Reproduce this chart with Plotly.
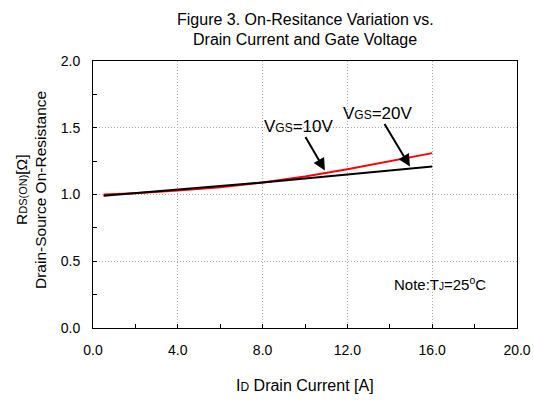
import plotly.graph_objects as go

# Data
id_current = [0.5, 2.0, 4.0, 6.0, 8.0, 10.0, 12.0, 14.0, 16.0]
rds_vgs10 = [0.99, 1.01, 1.035, 1.06, 1.09, 1.12, 1.15, 1.18, 1.21]
rds_vgs20 = [1.00, 1.01, 1.03, 1.055, 1.09, 1.135, 1.19, 1.25, 1.31]

x_ticks = [0, 4, 8, 12, 16, 20]
x_tick_labels = ["0.0", "4.0", "8.0", "12.0", "16.0", "20.0"]
y_ticks = [0, 0.5, 1.0, 1.5, 2.0]
y_tick_labels = ["0.0", "0.5", "1.0", "1.5", "2.0"]

FONT = "Liberation Sans, Arial, sans-serif"
L, R, T, B = 93, 17, 61, 73
PW, PH = 534 - L - R, 401 - T - B

fig = go.Figure()
fig.add_trace(go.Scatter(x=id_current, y=rds_vgs20, mode="lines",
                         line=dict(color="#ff0000", width=2), name="VGS=20V"))
fig.add_trace(go.Scatter(x=id_current, y=rds_vgs10, mode="lines",
                         line=dict(color="#000000", width=2), name="VGS=10V"))


def sm(t, s=11):
    return '<span style="font-size:%dpx">%s</span>' % (s, t)


axis_common = dict(
    showgrid=True, gridcolor="#a8a8a8", griddash="1px,2px", gridwidth=1,
    showline=True, linecolor="black", linewidth=1, mirror=True,
    ticks="inside", ticklen=4, tickcolor="black",
    zeroline=False, automargin=False,
    tickfont=dict(size=14, family=FONT, color="black"),
    ticklabelstandoff=9,
)

fig.update_layout(
    template="none",
    width=534, height=401,
    margin=dict(l=L, r=R, t=T, b=B, autoexpand=False),
    paper_bgcolor="white", plot_bgcolor="white",
    showlegend=False,
    font=dict(family=FONT, color="black", size=14),
    xaxis=dict(range=[0, 20], tickvals=x_ticks, ticktext=x_tick_labels,
               minor=dict(dtick=2, ticks="inside", ticklen=4, tickcolor="black", showgrid=False),
               **axis_common),
    yaxis=dict(range=[0, 2], tickvals=y_ticks, ticktext=y_tick_labels,
               minor=dict(dtick=0.25, ticks="inside", ticklen=4, tickcolor="black", showgrid=False),
               **axis_common),
)


def px_x(px):
    return (px - L) / PW


def px_y(py):
    return (401 - B - py) / PH


# Title (two lines)
fig.add_annotation(x=px_x(305), y=px_y(19), xref="paper", yref="paper", showarrow=False,
                   text="Figure 3. On-Resitance Variation vs.", font=dict(size=16),
                   xanchor="center", yanchor="middle")
fig.add_annotation(x=px_x(305), y=px_y(39), xref="paper", yref="paper", showarrow=False,
                   text="Drain Current and Gate Voltage", font=dict(size=16),
                   xanchor="center", yanchor="middle")

# Axis titles
fig.add_annotation(x=px_x(305), y=px_y(385), xref="paper", yref="paper", showarrow=False,
                   text="I" + sm("D", 12) + " Drain Current [A]", font=dict(size=16),
                   xanchor="center", yanchor="middle")
fig.add_annotation(x=px_x(21), y=px_y(190), xref="paper", yref="paper", showarrow=False,
                   text="R" + sm("DS(ON)", 11) + "[Ω]", font=dict(size=15.5), textangle=-90,
                   xanchor="center", yanchor="middle")
fig.add_annotation(x=px_x(40), y=px_y(190), xref="paper", yref="paper", showarrow=False,
                   text="Drain-Source On-Resistance", font=dict(size=15.5), textangle=-90,
                   xanchor="center", yanchor="middle")

# Curve labels with arrows (text sits at the arrow tail)
fig.add_annotation(x=10.94, y=1.18, ax=9.72, ay=1.513, xref="x", yref="y",
                   axref="x", ayref="y", showarrow=True, arrowhead=2,
                   arrowsize=1.2, arrowwidth=2, arrowcolor="black",
                   text="V" + sm("GS", 12) + "=10V", font=dict(size=17))
fig.add_annotation(x=14.95, y=1.21, ax=13.44, ay=1.61, xref="x", yref="y",
                   axref="x", ayref="y", showarrow=True, arrowhead=2,
                   arrowsize=1.2, arrowwidth=2, arrowcolor="black",
                   text="V" + sm("GS", 12) + "=20V", font=dict(size=17))
fig.add_annotation(x=16.37, y=0.337, xref="x", yref="y", showarrow=False,
                   text="Note:T" + sm("J", 10) + "=25<sup>o</sup>C",
                   font=dict(size=15))

fig.write_html("out.html", config={"displayModeBar": False},
               post_script="document.body.style.margin='0px';")
